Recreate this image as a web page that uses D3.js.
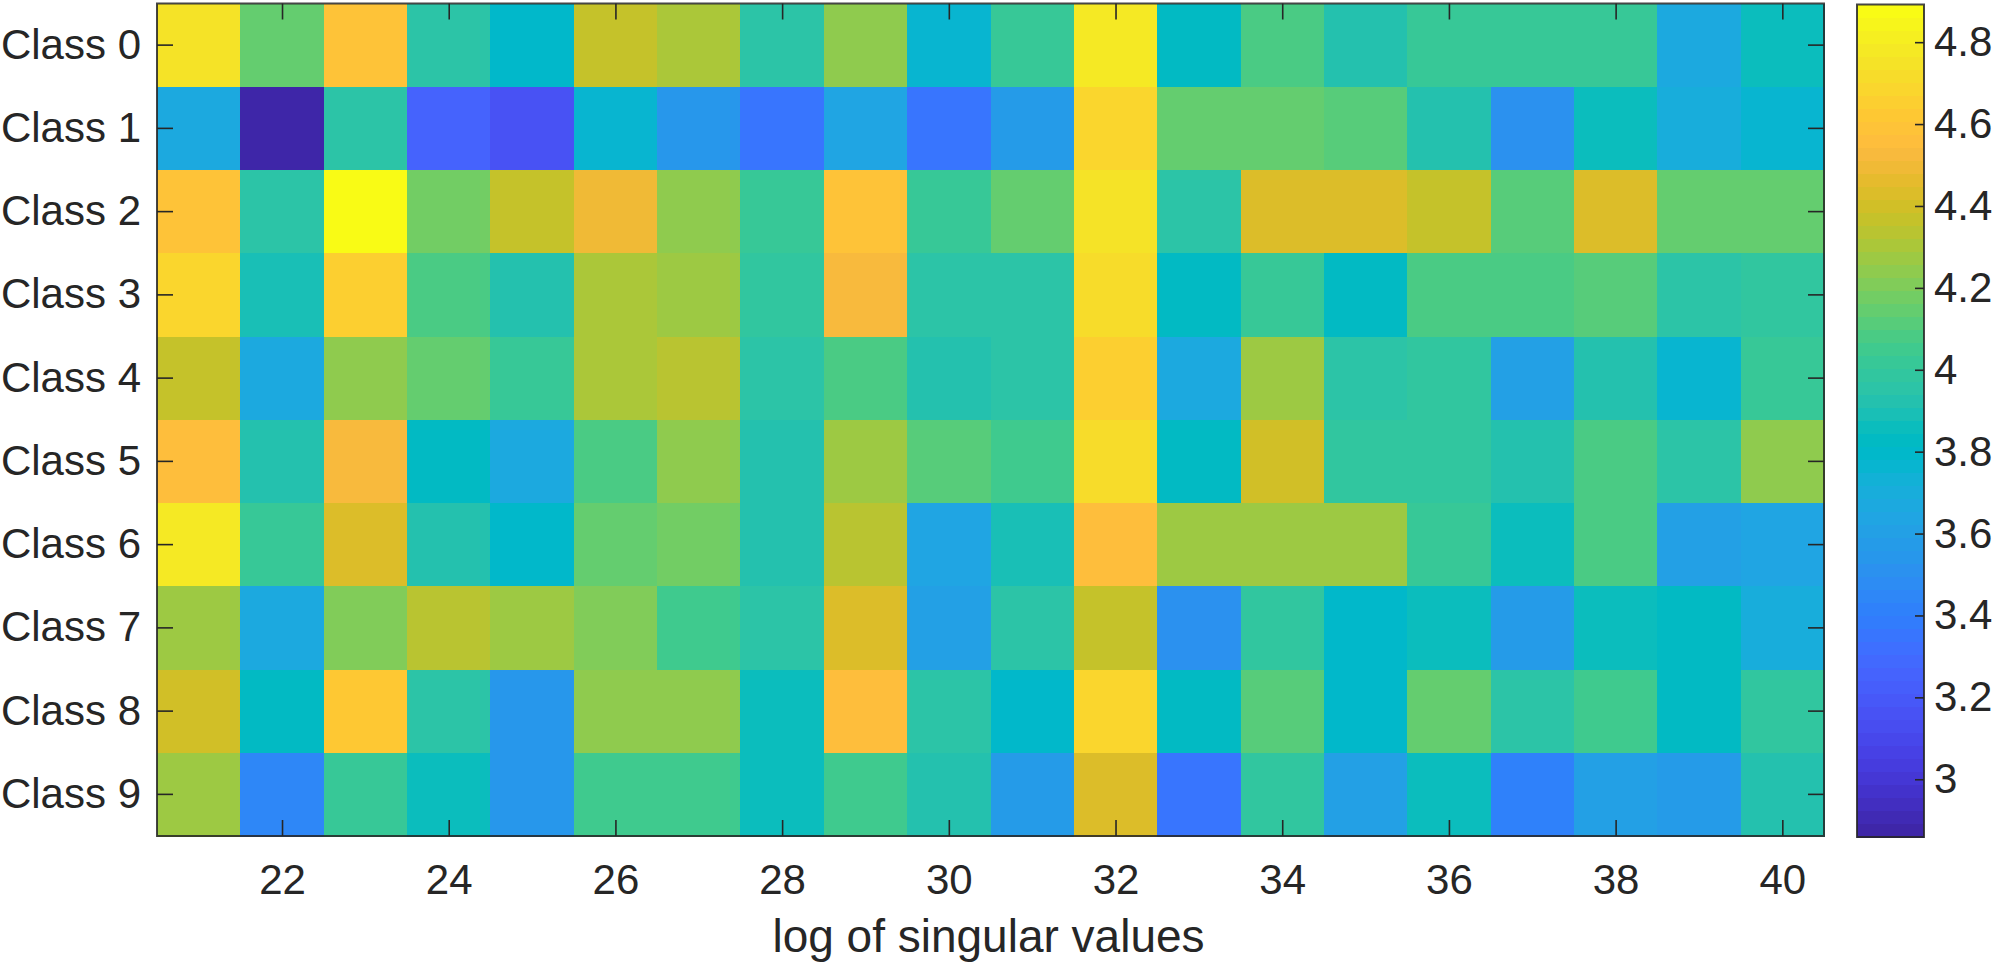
<!DOCTYPE html>
<html><head><meta charset="utf-8">
<script src="https://cdn.jsdelivr.net/npm/d3@7"></script>
<style>
html,body{margin:0;padding:0;background:#fff;overflow:hidden}
text{font-family:"Liberation Sans",Arial,sans-serif;fill:#262626}
</style></head><body>
<svg id="c" width="1993" height="962"></svg>
<script>
const classes=["Class 0","Class 1","Class 2","Class 3","Class 4","Class 5","Class 6","Class 7","Class 8","Class 9"];
const columns=d3.range(21,41);
const xTicks=[22,24,26,28,30,32,34,36,38,40];
const cbTicks=[3,3.2,3.4,3.6,3.8,4,4.2,4.4,4.6,4.8];
const colorLimits=[2.859,4.892];
const xLabel="log of singular values";
const row0=[4.76,4.15,4.58,3.95,3.80,4.38,4.32,3.95,4.23,3.75,4.03,4.78,3.83,4.07,3.93,4.03,4.03,4.03,3.67,3.87];
const row1=[3.68,2.86,3.95,3.26,3.17,3.75,3.55,3.35,3.65,3.35,3.57,4.68,4.13,4.15,4.10,3.93,3.52,3.85,3.70,3.77];
const row2=[4.60,3.97,4.89,4.18,4.37,4.48,4.23,4.03,4.60,4.03,4.15,4.74,3.97,4.44,4.43,4.37,4.12,4.42,4.13,4.13];
const row3=[4.70,3.90,4.66,4.08,3.93,4.31,4.26,4.00,4.53,3.97,3.97,4.72,3.83,4.03,3.83,4.07,4.09,4.11,3.97,3.98];
const row4=[4.37,3.68,4.25,4.13,4.03,4.32,4.34,3.95,4.07,3.92,3.97,4.65,3.67,4.26,3.95,3.98,3.60,3.92,3.77,4.03];
const row5=[4.57,3.92,4.54,3.83,3.67,4.07,4.23,3.93,4.26,4.11,4.05,4.72,3.82,4.41,3.99,3.98,3.92,4.09,3.97,4.25];
const row6=[4.79,4.02,4.42,3.93,3.81,4.13,4.18,3.93,4.35,3.65,3.90,4.57,4.28,4.28,4.28,4.03,3.87,4.07,3.62,3.65];
const row7=[4.26,3.67,4.20,4.34,4.28,4.22,4.06,3.95,4.43,3.60,3.96,4.36,3.50,4.00,3.80,3.87,3.58,3.85,3.82,3.70];
const row8=[4.39,3.83,4.62,3.96,3.55,4.25,4.25,3.87,4.56,3.97,3.80,4.68,3.82,4.12,3.80,4.15,3.94,4.04,3.82,3.98];
const row9=[4.27,3.45,4.03,3.85,3.55,4.05,4.05,3.85,4.05,3.93,3.58,4.44,3.35,3.98,3.60,3.87,3.42,3.62,3.57,3.93];
const rows=[row0,row1,row2,row3,row4,row5,row6,row7,row8,row9];
const parula=[[.2422,.1504,.6603],[.2504,.165,.7076],[.2578,.1818,.7511],[.2647,.1978,.7952],[.2706,.2147,.8364],[.2751,.2342,.871],[.2783,.2559,.8991],[.2803,.2782,.9221],[.2813,.3006,.9414],[.281,.3228,.9579],[.2795,.3447,.9717],[.276,.3667,.9829],[.2699,.3892,.9906],[.2602,.4123,.9952],[.244,.4358,.9988],[.2206,.4603,.9973],[.1963,.4847,.9892],[.1834,.5074,.9798],[.1786,.5289,.9682],[.1764,.5499,.952],[.1687,.5703,.9359],[.154,.5902,.9218],[.146,.6091,.9079],[.138,.6276,.8973],[.1248,.6459,.8883],[.1113,.6635,.8763],[.0952,.6798,.8598],[.0689,.6948,.8394],[.0297,.7082,.8163],[.0036,.7203,.7917],[.0067,.7312,.766],[.0433,.7411,.7394],[.0964,.75,.712],[.1408,.7584,.6842],[.1717,.767,.6554],[.1938,.7758,.6251],[.2161,.7843,.5923],[.247,.7918,.5567],[.2906,.7973,.5188],[.3406,.8008,.4789],[.3909,.8029,.4354],[.4456,.8024,.3909],[.5044,.7993,.348],[.5616,.7942,.3045],[.6174,.7876,.2612],[.672,.7793,.2227],[.7242,.7698,.191],[.7738,.7598,.1646],[.8203,.7498,.1535],[.8634,.7406,.1596],[.9035,.733,.1774],[.9393,.7288,.21],[.9728,.7298,.2394],[.9956,.7434,.2371],[.997,.7659,.2199],[.9952,.7861,.1994],[.9892,.8134,.1885],[.9786,.8386,.1766],[.9676,.8639,.1643],[.961,.889,.1537],[.9597,.9135,.1423],[.9628,.9373,.1265],[.9691,.9606,.1064],[.9769,.9839,.0805]];
const palette=parula.map(c=>d3.rgb(c[0]*255,c[1]*255,c[2]*255).formatHex());

const L=157,R=1824,T=3.5,B=836, CL=1857,CR=1924,CT=4.5,CB=837;
const ink="#262626", fs=42, labelFs=46;
const svg=d3.select("#c");
const x=d3.scaleLinear().domain([20.5,40.5]).range([L,R]);
const y=d3.scaleBand().domain(classes).range([T,B]);
const color=d3.scaleQuantize().domain(colorLimits).range(palette);
const cy=d3.scaleLinear().domain(colorLimits).range([CB,CT]);

svg.append("g").attr("shape-rendering","crispEdges").selectAll("g").data(rows).join("g")
  .attr("transform",(d,i)=>`translate(0,${y(classes[i])})`)
  .selectAll("rect").data(d=>d).join("rect")
  .attr("x",(d,j)=>x(columns[j]-.5)).attr("width",(R-L)/columns.length+.5)
  .attr("y",0).attr("height",y.bandwidth()+.5).attr("fill",d=>color(d));

const styleAxis=(g,noText)=>{g.select(".domain").remove();
  g.selectAll("line").attr("stroke",ink).attr("stroke-width",1.6);
  g.selectAll("text").attr("font-size",fs).attr("fill",ink).style("font-family",'"Liberation Sans",Arial,sans-serif');
  if(noText)g.selectAll("text").remove();};
const TK=16;
svg.append("g").attr("transform",`translate(0,${B})`)
  .call(d3.axisBottom(x).tickValues(xTicks).tickFormat(d3.format("d")).tickSize(-TK).tickPadding(TK+12))
  .call(g=>styleAxis(g));
svg.append("g").attr("transform",`translate(0,${T})`)
  .call(d3.axisTop(x).tickValues(xTicks).tickSize(-TK)).call(g=>styleAxis(g,true));
svg.append("g").attr("transform",`translate(${L},0)`)
  .call(d3.axisLeft(y).tickSize(-TK).tickPadding(TK))
  .call(g=>styleAxis(g));
svg.append("g").attr("transform",`translate(${R},0)`)
  .call(d3.axisRight(y).tickSize(-TK)).call(g=>styleAxis(g,true));
svg.append("rect").attr("x",L).attr("y",T).attr("width",R-L).attr("height",B-T)
  .attr("fill","none").attr("stroke",ink).attr("stroke-width",2).attr("stroke-opacity",.85);
svg.append("text").attr("x",(L+R)/2-2).attr("y",952).attr("text-anchor","middle").attr("font-size",labelFs).text(xLabel);

const step=(colorLimits[1]-colorLimits[0])/palette.length;
svg.append("g").attr("shape-rendering","crispEdges").selectAll("rect").data(palette).join("rect")
  .attr("x",CL).attr("width",CR-CL)
  .attr("y",(d,i)=>cy(colorLimits[0]+(i+1)*step))
  .attr("height",(CB-CT)/palette.length+.5).attr("fill",d=>d);
svg.append("g").attr("transform",`translate(${CR},0)`)
  .call(d3.axisRight(cy).tickValues(cbTicks).tickFormat(d=>String(d)).tickSize(-9).tickPadding(10))
  .call(g=>styleAxis(g));
svg.append("rect").attr("x",CL).attr("y",CT).attr("width",CR-CL).attr("height",CB-CT)
  .attr("fill","none").attr("stroke",ink).attr("stroke-width",2).attr("stroke-opacity",.85);
</script></body></html>
